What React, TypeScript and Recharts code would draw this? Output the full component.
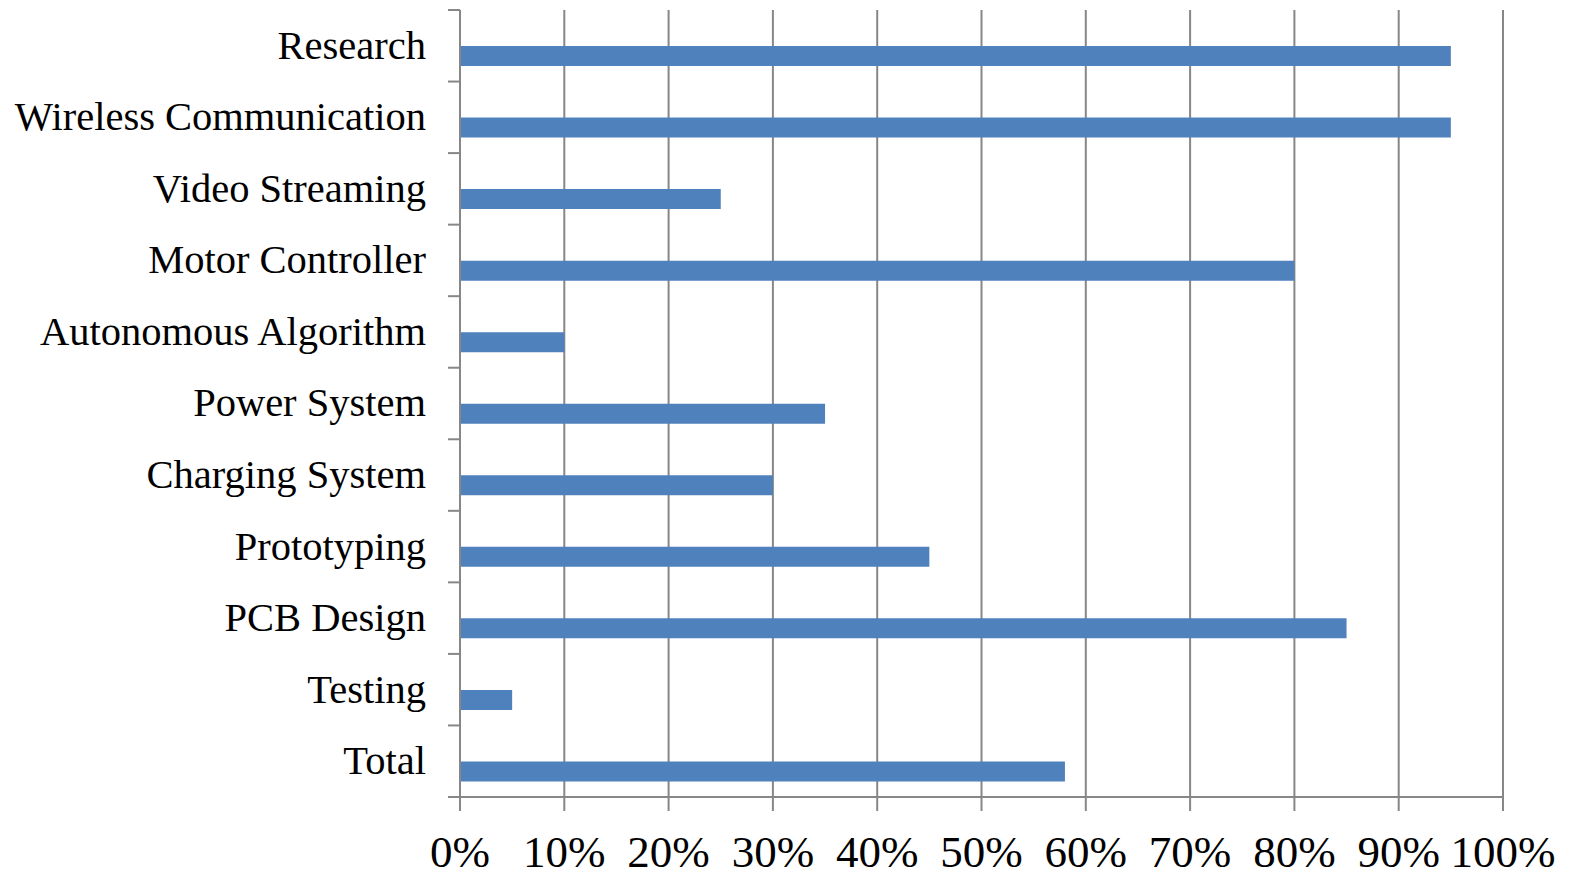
import React from 'react';
import { BarChart, Bar, XAxis, YAxis, CartesianGrid } from 'recharts';

const CATEGORIES = [
  'Research',
  'Wireless Communication',
  'Video Streaming',
  'Motor Controller',
  'Autonomous Algorithm',
  'Power System',
  'Charging System',
  'Prototyping',
  'PCB Design',
  'Testing',
  'Total',
];

// the original sheet has an empty series next to the completion one
const EMPTY_SERIES = [null, null, null, null, null, null, null, null, null, null, null];
const COMPLETION = [95, 95, 25, 80, 10, 35, 30, 45, 85, 5, 58];
const X_TICKS = [0, 10, 20, 30, 40, 50, 60, 70, 80, 90, 100];

const data = CATEGORIES.map((name, i) => ({
  name,
  empty: EMPTY_SERIES[i],
  completion: COMPLETION[i],
}));

const WIDTH = 1577;
const HEIGHT = 881;
const MARGIN = { top: 10, right: 74, bottom: 0, left: 0 };
const Y_AXIS_W = 460;
const X_AXIS_H = 84;
const PLOT_H = HEIGHT - MARGIN.top - MARGIN.bottom - X_AXIS_H;
const BAND = PLOT_H / CATEGORIES.length;

const GRID = '#878787';
const FONT = '"Liberation Serif", "Times New Roman", serif';

const CategoryTick = (props: any) => {
  const { x, y, payload, index } = props;
  const axisX = x + 34;
  const top = y - BAND / 2;
  const bottom = y + BAND / 2;
  return (
    <g>
      <line x1={axisX - 12} x2={axisX} y1={top} y2={top} stroke={GRID} strokeWidth={2} />
      {index === CATEGORIES.length - 1 && (
        <line x1={axisX - 12} x2={axisX} y1={bottom} y2={bottom} stroke={GRID} strokeWidth={2} />
      )}
      <text
        x={x}
        y={y}
        dy="0.32em"
        textAnchor="end"
        fill="#000"
        style={{ fontFamily: FONT, fontSize: 40.5 }}
      >
        {payload.value}
      </text>
    </g>
  );
};

export default function App() {
  return (
    <div style={{ position: 'absolute', left: 0, top: 0, width: WIDTH, height: HEIGHT, background: '#fff' }}>
      <BarChart
        width={WIDTH}
        height={HEIGHT}
        data={data}
        layout="vertical"
        margin={MARGIN}
        barGap={0}
        barSize={20}
      >
        <CartesianGrid horizontal={false} stroke={GRID} strokeWidth={2} />
        <XAxis
          type="number"
          domain={[0, 100]}
          ticks={X_TICKS}
          interval={0}
          height={X_AXIS_H}
          tickFormatter={(v) => `${v}%`}
          axisLine={{ stroke: GRID, strokeWidth: 2 }}
          tickLine={{ stroke: GRID, strokeWidth: 2 }}
          tickSize={14}
          tickMargin={24}
          tick={{ fill: '#000', fontSize: 45, fontFamily: FONT }}
        />
        <YAxis
          type="category"
          dataKey="name"
          width={Y_AXIS_W}
          interval={0}
          axisLine={{ stroke: GRID, strokeWidth: 2 }}
          tickLine={false}
          tickSize={12}
          tickMargin={22}
          tick={<CategoryTick />}
        />
        <Bar dataKey="empty" fill="#4F81BD" isAnimationActive={false} />
        <Bar dataKey="completion" fill="#4F81BD" isAnimationActive={false} />
      </BarChart>
    </div>
  );
}
